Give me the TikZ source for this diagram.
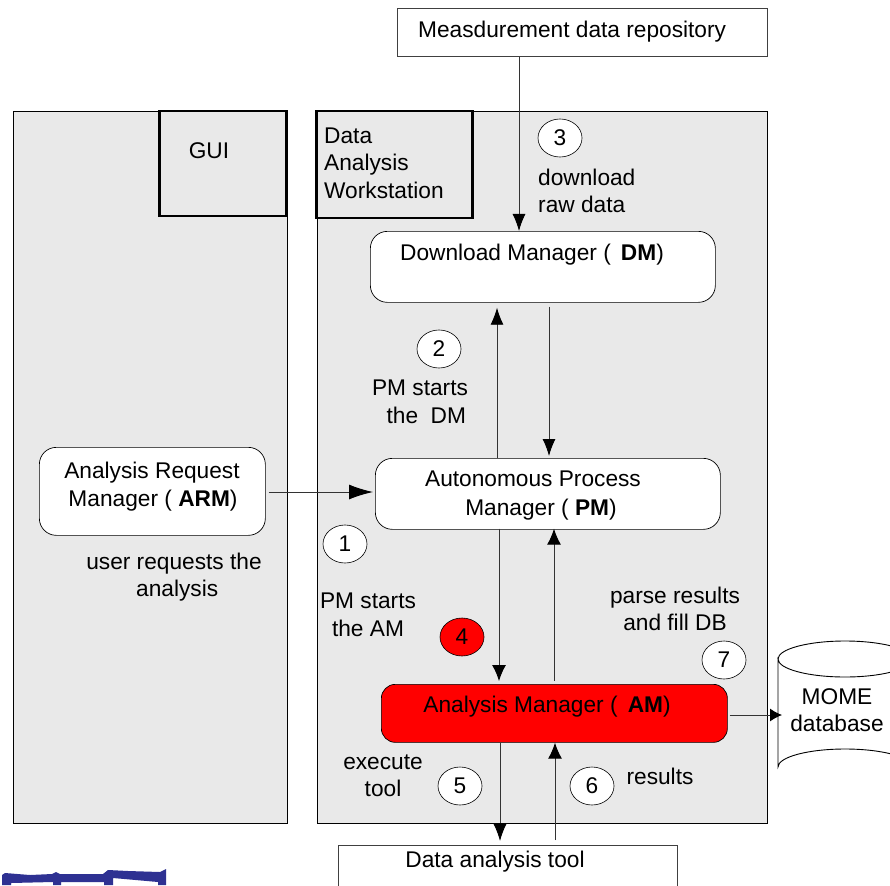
\documentclass[tikz,border=0pt]{standalone}
\usepackage{fontspec}
\setmainfont{Liberation Sans}
\usetikzlibrary{arrows.meta,shapes.geometric}
\definecolor{panelgray}{HTML}{E9E9E9}
\definecolor{logoblue}{HTML}{2E3192}
\tikzset{
  panel/.style={draw=black,fill=panelgray,line width=0.9pt,anchor=north west,inner sep=0pt},
  titlebox/.style={draw=black,fill=panelgray,line width=2.7pt,anchor=center,inner sep=0pt},
  manager/.style={draw=black,fill=white,line width=0.7pt,rounded corners=17pt,anchor=north west,inner sep=0pt},
  plainbox/.style={draw=black!75,fill=white,line width=0.9pt,anchor=north west,inner sep=0pt},
  stepmark/.style={draw=black,fill=white,line width=0.6pt,ellipse,minimum width=44pt,minimum height=38pt,inner sep=0pt},
  txt/.style={align=center,inner sep=0pt},
  flow/.style={draw=black!80,line width=1pt,-{Latex[black,length=16pt,width=14pt]}},
  thinflow/.style={draw=black!80,line width=0.9pt,-{Latex[black,length=17pt,width=13pt]}}
}
\begin{document}
\begin{tikzpicture}[x=1pt,y=-1pt,font=\fontsize{22.7}{27.5}\selectfont]
\clip (0,0) rectangle (890,885);
\fill[white] (0,0) rectangle (890,885);

% panels
\node[panel,minimum width=274pt,minimum height=712pt] (guipanel) at (13,111) {};
\node[panel,minimum width=450pt,minimum height=712pt] (wspanel) at (317,111) {};
\node[titlebox,minimum width=127pt,minimum height=105pt] (guibox) at (223,163.5) {};
\node[titlebox,minimum width=156pt,minimum height=107pt] (wsbox) at (394.5,164.5) {};
\node[txt] (guitext) at (209,151) {GUI};
\node[txt,align=left,anchor=west] (wstext) at (324,163) {Data\\Analysis\\Workstation};

% boxes outside the panels
\node[plainbox,minimum width=370pt,minimum height=48pt] (repo) at (397,8) {};
\node[txt,anchor=west] (repotext) at (418,32) {Measdurement data repository};
\node[plainbox,minimum width=339pt,minimum height=60pt] (tool) at (338,845) {};
\node[txt] (tooltext) at (495,862) {Data analysis tool};

% managers
\node[manager,minimum width=345pt,minimum height=71pt] (dm) at (370,231) {};
\node[txt] (dmtext) at (532,255) {Download Manager ( \,\textbf{DM})};
\node[manager,minimum width=345pt,minimum height=71pt] (pm) at (375,458) {};
\node[txt] (pmtext) at (533,479) {Autonomous Process};
\node[txt] (pmtext2) at (541,510) {Manager ( \textbf{PM})};
\node[manager,minimum width=226pt,minimum height=88pt] (arm) at (39,447) {};
\node[txt] (armtext) at (152,473) {Analysis Request};
\node[txt] (armtext2) at (153,501) {Manager ( \textbf{ARM})};
\node[manager,fill=red,rounded corners=14pt,minimum width=346pt,minimum height=58pt] (am) at (381,684) {};
\node[txt] (amtext) at (547,707) {Analysis Manager ( \,\textbf{AM})};

% database
\draw[fill=white,line width=0.9pt] (778,659) -- (778,767) arc (180:360:67 and 18) -- (912,659) arc (0:180:67 and 18) -- cycle;
\draw[line width=0.9pt] (778,659) arc (180:360:67 and 18);
\coordinate (db) at (782,715);
\node[txt] (dbtext) at (837,697) {MOME};
\node[txt] (dbtext2) at (837,723) {database};

% connectors
\draw[thinflow] (repo.south -| 519,0) -- (dm.north -| 519,0);
\draw[thinflow] (pm.north -| 497,0) -- ([yshift=-5pt]dm.south -| 497,0);
\draw[thinflow,shorten >=2pt] ([yshift=-4pt]dm.south -| 549,0) -- (pm.north -| 549,0);
\draw[flow,-{Latex[black,length=24pt,width=15pt]},shorten >=2pt,shorten <=3pt] (arm.east |- 0,492) -- (pm.west |- 0,492);
\draw[flow,shorten >=3pt] ([yshift=1pt]pm.south -| 499,0) -- (am.north -| 499,0);
\draw[flow,shorten <=3pt] (am.north -| 554,0) -- ([yshift=1pt]pm.south -| 554,0);
\draw[flow,-{Latex[black,length=12pt,width=13pt]},shorten <=2pt] (am.east |- 0,715) -- (db);
\draw[flow,-{Latex[black,length=18pt,width=14pt]},shorten >=4pt] (am.south -| 500,0) -- (tool.north -| 500,0);
\draw[flow,shorten <=5pt] (tool.north -| 555,0) -- (am.south -| 555,0);

% step marks
\node[stepmark] (s1) at (345,544) {1};
\node[stepmark] (s2) at (439,349) {2};
\node[stepmark] (s3) at (560,138) {3};
\node[stepmark,fill=red] (s4) at (462,637) {4};
\node[stepmark] (s5) at (460,786) {5};
\node[stepmark] (s6) at (592,786) {6};
\node[stepmark] (s7) at (724,660) {7};

% step labels
\node[txt,align=left,anchor=west] (l3) at (538,191) {download\\raw data};
\node[txt] (l2) at (420,402) {PM starts\\\ \ the\ \ DM};
\node[txt] (l1) at (174,577) {user requests the\\\ analysis};
\node[txt] (l4) at (368,615) {PM starts\\the AM};
\node[txt] (l7) at (675,609) {parse results\\and fill DB};
\node[txt] (l5) at (383,776) {execute\\tool};
\node[txt] (l6) at (660,776) {results};

% logo fragment
\fill[logoblue] (2,875) -- (5,873) -- (30,875) -- (52,874) -- (56,872) -- (60,874) -- (103,874) -- (108,870) -- (128,871) -- (160,872) -- (166,869) -- (166,885) -- (158,885) -- (158,882) -- (113,878) -- (113,885) -- (104,885) -- (104,882) -- (61,882) -- (61,885) -- (53,885) -- (53,882) -- (11,883) -- (11,885) -- (2,885) -- cycle;
\end{tikzpicture}
\end{document}
